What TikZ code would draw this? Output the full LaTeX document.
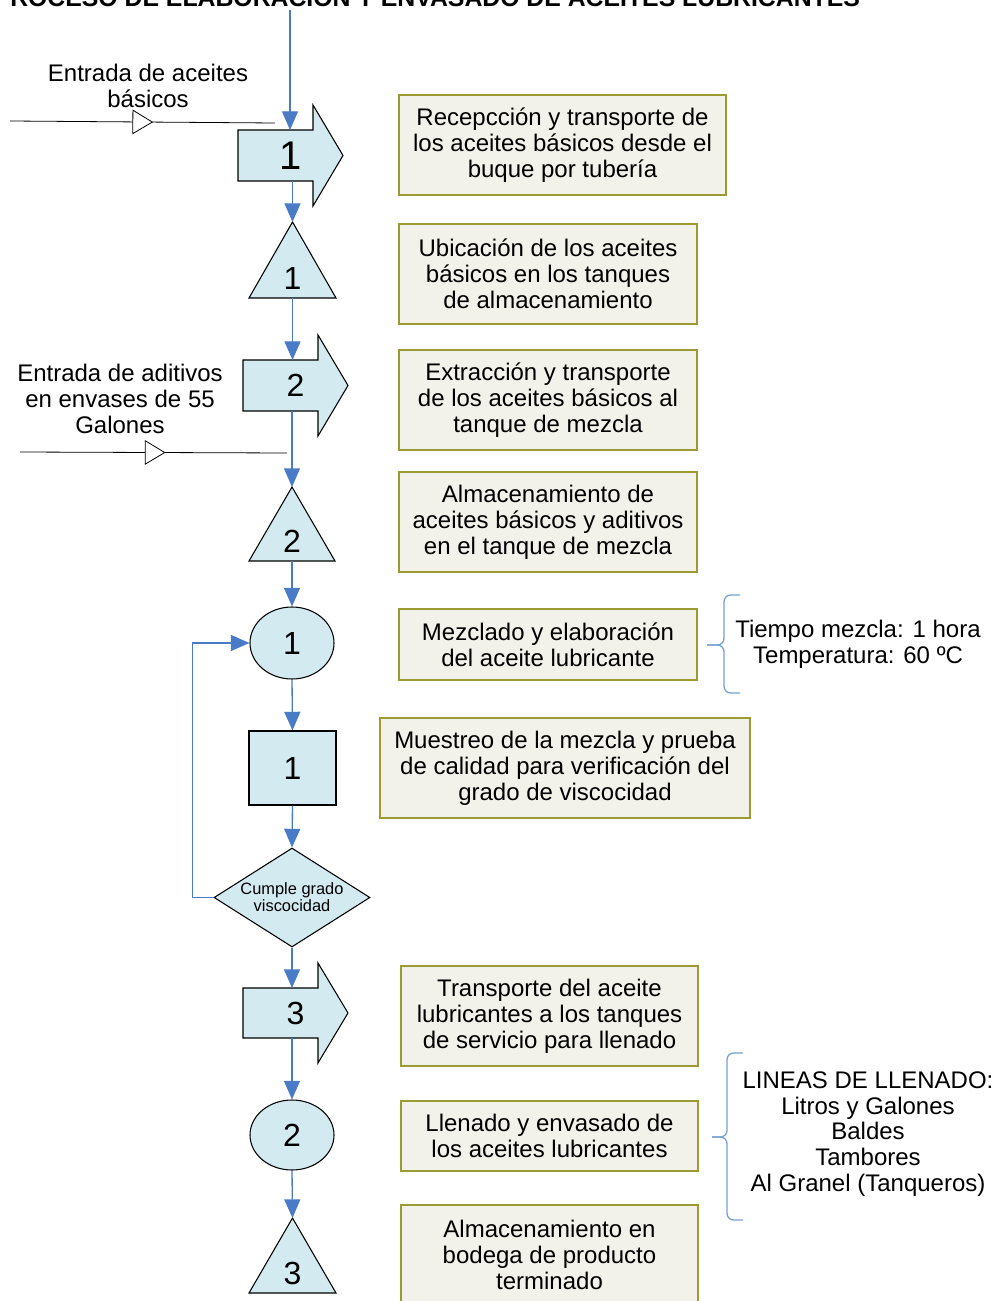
\documentclass[tikz,border=0pt]{standalone}
\usepackage{fontspec}
\setmainfont{Liberation Sans}
\usetikzlibrary{arrows.meta,shapes.geometric,calc,decorations.markings}
\definecolor{shpfill}{RGB}{210,234,240}
\definecolor{boxfill}{RGB}{242,242,234}
\definecolor{boxline}{RGB}{155,155,50}
\definecolor{flowblue}{RGB}{74,123,198}
\definecolor{bracecol}{RGB}{120,160,212}
\newcommand\bigarrowshape[1]{\draw[shp] (#1.north west) -- ($(#1.north east)+(-30,0)$) -- ($(#1.north east)+(-30,-25)$) -- (#1.east) -- ($(#1.south east)+(-30,25)$) -- ($(#1.south east)+(-30,0)$) -- (#1.south west) -- cycle;}
\newcommand\trishape[1]{\draw[shp] (#1.north) -- (#1.south east) -- (#1.south west) -- cycle;}
\begin{document}
\begin{tikzpicture}[x=0.75pt,y=-0.75pt,
 flow/.style={draw=flowblue,line width=1pt,-{Triangle[width=12pt,length=14pt]}},
 shp/.style={draw=black,fill=shpfill,line width=0.8pt},
 txtbox/.style={draw=boxline,fill=boxfill,line width=0.9pt,align=center,font=\fontsize{18}{19.5}\selectfont,inner sep=0pt},
 num/.style={font=\fontsize{24}{24}\selectfont,inner sep=0pt},
 holder/.style={inner sep=0pt,outer sep=0pt},
 feed/.style={draw=black,line width=0.6pt,postaction={decorate},decoration={markings,mark=at position #1 with {\arrow{Triangle[fill=white,width=18.5pt,length=15.5pt]}}}},
 brace/.style={draw=bracecol,line width=1pt,rounded corners=5pt},
 lbl/.style={align=center,font=\fontsize{18}{19.3}\selectfont,inner sep=0pt}
]
\useasboundingbox (0,0) rectangle (1000,1301);
\clip (0,0) rectangle (1000,1301);

% title (clipped at top, as in the reference)
\node[anchor=base west,inner sep=0pt,font=\bfseries\fontsize{18.6}{20}\selectfont] (title) at (10,7) {ROCESO DE ELABORACIÓN Y ENVASADO DE ACEITES LUBRICANTES};

% ---- symbols column ----
\node[holder,minimum width=78.75pt,minimum height=38.25pt] (a1) at (290.5,155.5) {};
\bigarrowshape{a1}
\node[num,font=\fontsize{30}{30}\selectfont] (a1n) at (a1) {1};

\node[holder,minimum width=65.25pt,minimum height=57pt] (t1) at (292.5,260) {};
\trishape{t1}
\node[num] (t1n) at ($(t1.south)+(0,-20)$) {1};

\node[holder,minimum width=78.75pt,minimum height=38.25pt] (a2) at (295.5,385.5) {};
\bigarrowshape{a2}
\node[num] (a2n) at (a2) {2};

\node[holder,minimum width=64.5pt,minimum height=55.5pt] (t2) at (292,524) {};
\trishape{t2}
\node[num] (t2n) at ($(t2.south)+(0,-20)$) {2};

\node[shp,ellipse,num,minimum width=63pt,minimum height=54pt] (c1) at (292,643) {1};

\node[shp,rectangle,num,minimum width=65.25pt,minimum height=55.5pt] (sq1) at (292.5,768) {1};

\node[shp,diamond,aspect=1.58,inner sep=0pt,minimum width=117pt,minimum height=74.25pt,align=center,font=\fontsize{12.3}{12.8}\selectfont] (d1) at (292,897.5) {Cumple grado\\viscocidad};

\node[holder,minimum width=78.75pt,minimum height=37.5pt] (a3) at (295.5,1013) {};
\bigarrowshape{a3}
\node[num] (a3n) at (a3) {3};

\node[shp,ellipse,num,minimum width=63pt,minimum height=52.5pt] (c2) at (292,1135) {2};

\node[holder,minimum width=65.25pt,minimum height=56.25pt] (t3) at (292.5,1255.5) {};
\trishape{t3}
\node[num] (t3n) at ($(t3.south)+(0,-20)$) {3};

% ---- connectors ----
\coordinate (top) at (290,10);
\draw[flow,line width=0.8pt] (top) -- (top |- a1.north);
\draw[flow] (t1.north |- a1.south) -- (t1.north);
\draw[flow] (t1.south) -- (t1.south |- a2.north);
\draw[flow] (t2.north |- a2.south) -- (t2.north);
\draw[flow] (t2.south) -- (c1.north);
\draw[flow] (c1.south) -- (sq1.north);
\draw[flow] (sq1.south) -- (d1.north);
\draw[flow] (d1.west) -- ++(-21,0) |- (c1.west);
\draw[flow] (d1.south) -- (d1.south |- a3.north);
\draw[flow] (c2.north |- a3.south) -- (c2.north);
\draw[flow] (c2.south) -- (t3.north);

% ---- feed lines ----
\coordinate (f1s) at (10,121);
\coordinate (f1e) at (275,123);
\draw[feed=0.54] (f1s) -- (f1e);
\coordinate (f2s) at (20,452);
\coordinate (f2e) at (287,453);
\draw[feed=0.545] (f2s) -- (f2e);
\node[lbl] (in1) at (148,86) {Entrada de aceites\\básicos};
\node[lbl] (in2) at (120,399) {Entrada de aditivos\\en envases de 55\\Galones};

% ---- description boxes ----
\node[txtbox,minimum width=245.25pt,minimum height=75pt] (b1) at (562.5,145) {Recepcción y transporte de\\los aceites básicos desde el\\buque por tubería};
\node[txtbox,minimum width=223.5pt,minimum height=75pt] (b2) at (548,274) {Ubicación de los aceites\\básicos en los tanques\\de almacenamiento};
\node[txtbox,minimum width=223.5pt,minimum height=75pt] (b3) at (548,400) {Extracción y transporte\\de los aceites básicos al\\tanque de mezcla};
\node[txtbox,minimum width=223.5pt,minimum height=75pt] (b4) at (548,522) {Almacenamiento de\\aceites básicos y aditivos\\en el tanque de mezcla};
\node[txtbox,minimum width=223.5pt,minimum height=53.25pt] (b5) at (548,644.5) {Mezclado y elaboración\\del aceite lubricante};
\node[txtbox,minimum width=277.5pt,minimum height=75pt] (b6) at (565,768) {Muestreo de la mezcla y prueba\\de calidad para verificación del\\grado de viscocidad};
\node[txtbox,minimum width=222.75pt,minimum height=75pt] (b7) at (549.5,1016) {Transporte del aceite\\lubricantes a los tanques\\de servicio para llenado};
\node[txtbox,minimum width=222.75pt,minimum height=52.5pt] (b8) at (549.5,1136) {Llenado y envasado de\\los aceites lubricantes};
\node[txtbox,minimum width=222.75pt,minimum height=75pt] (b9) at (549.5,1255) {Almacenamiento en\\bodega de producto\\terminado};

% ---- braces ----
\draw[brace] (740,595) -- (724,595) -- (724,645) -- (707,645);
\draw[brace] (707,645) -- (724,645) -- (724,693) -- (740,693);
\node[lbl] (bt1) at (858,644) {Tiempo mezcla: 1 hora\\Temperatura: 60 ºC};

\draw[brace] (743,1053) -- (727,1053) -- (727,1137) -- (712,1137);
\draw[brace] (712,1137) -- (727,1137) -- (727,1220) -- (743,1220);
\node[lbl] (bt2) at (868,1134) {LINEAS DE LLENADO:\\Litros y Galones\\Baldes\\Tambores\\Al Granel (Tanqueros)};
\end{tikzpicture}
\end{document}
